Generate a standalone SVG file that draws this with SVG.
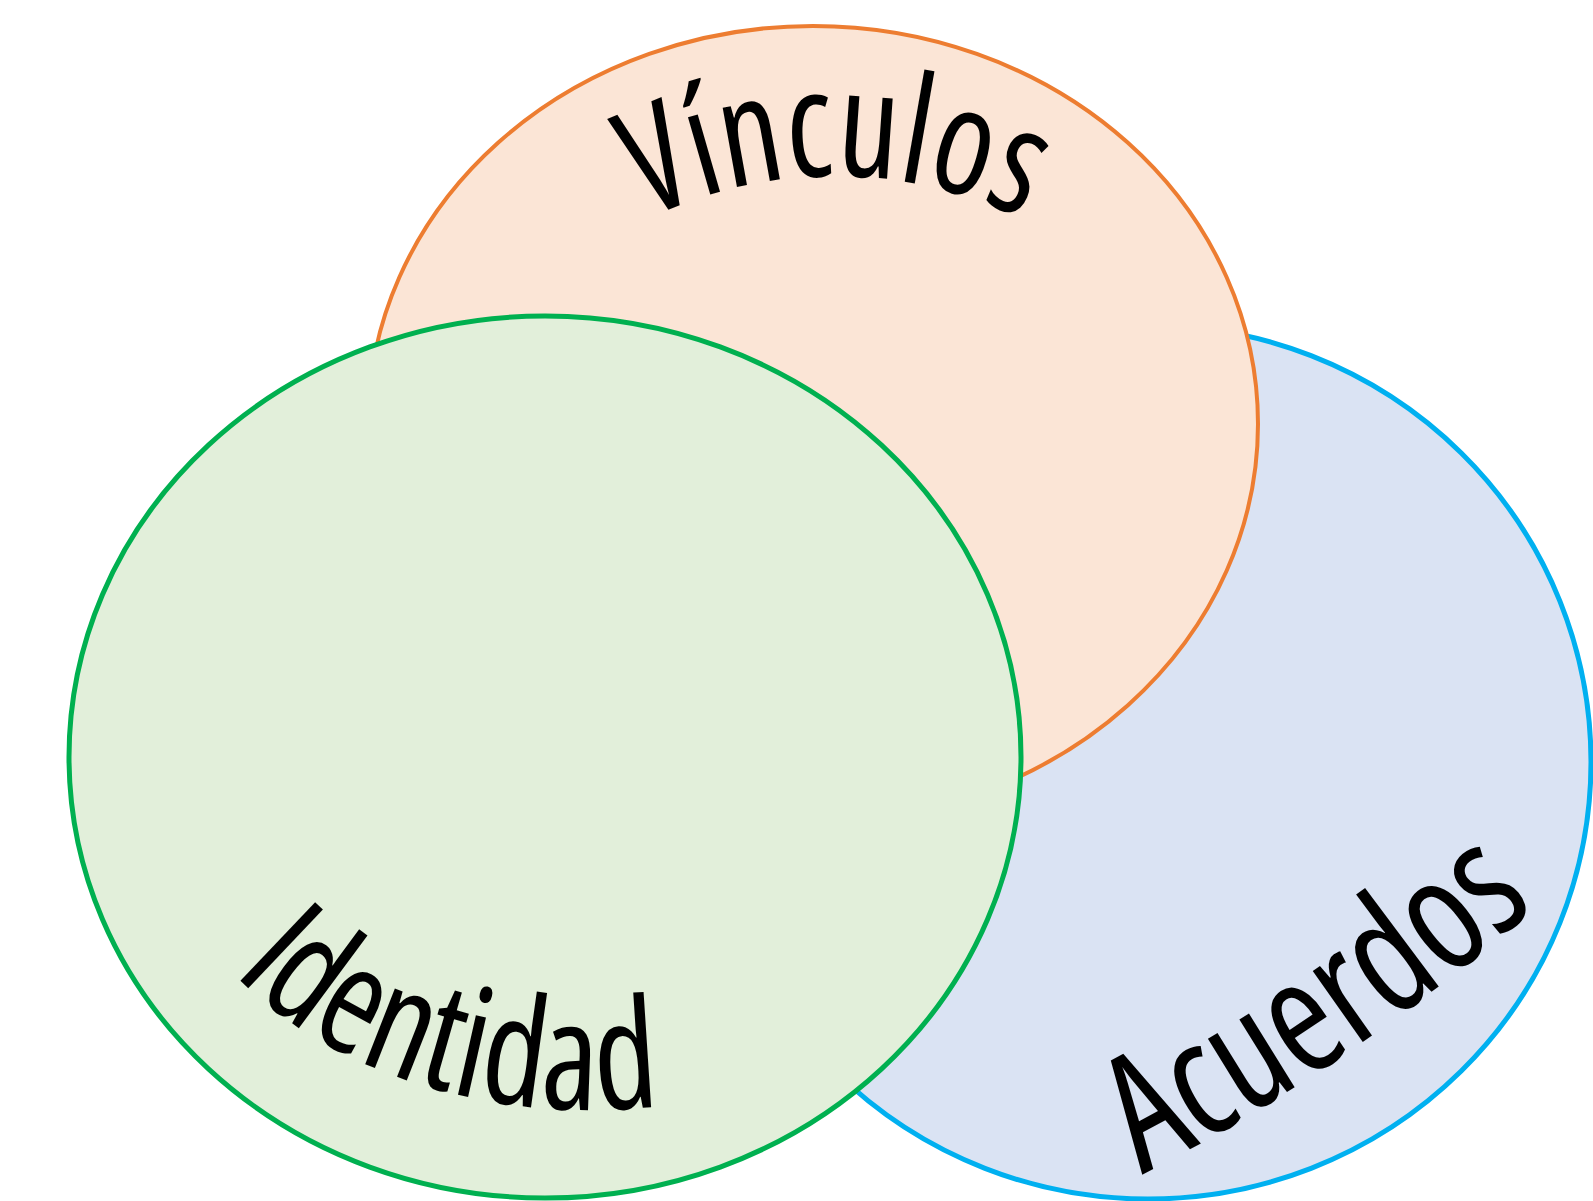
<svg xmlns="http://www.w3.org/2000/svg" width="1593" height="1201" viewBox="0 0 1593 1201">
<style>
.lbl{font-family:"Open Sans","Liberation Sans",sans-serif;font-stretch:75%;fill:#000;}
</style>
<defs>
<path id="pV" d="M 461 392 A 432 432 0 0 1 1209 392"/>
<path id="pI" d="M 150 781 A 440 329 0 0 0 1030 781"/>
<path id="pA" d="M 1135 1178 Q 1370 1060 1590 860 L 1820 650"/>
</defs>
<rect width="1593" height="1201" fill="#ffffff"/>
<g id="acuerdos">
<ellipse cx="1148" cy="762" rx="443" ry="437" fill="#DAE3F3" stroke="#00B0F0" stroke-width="5"/>
<text class="lbl" font-size="162"><textPath href="#pA" startOffset="8" textLength="478" lengthAdjust="spacingAndGlyphs">Acuerdos</textPath></text>
</g>
<g id="vinculos">
<ellipse cx="813" cy="424" rx="445" ry="398" fill="#FBE5D6" stroke="#ED7D31" stroke-width="4"/>
<text class="lbl" font-size="150" text-anchor="middle"><textPath href="#pV" startOffset="50%" textLength="388" lengthAdjust="spacingAndGlyphs">Vínculos</textPath></text>
</g>
<g id="identidad">
<ellipse cx="545" cy="757" rx="476" ry="441" fill="#E2EFDA" stroke="#00B050" stroke-width="5"/>
<text class="lbl" font-size="152"><textPath href="#pI" startOffset="215" textLength="462" lengthAdjust="spacingAndGlyphs">Identidad</textPath></text>
</g>
<g id="connectors"/>
</svg>
